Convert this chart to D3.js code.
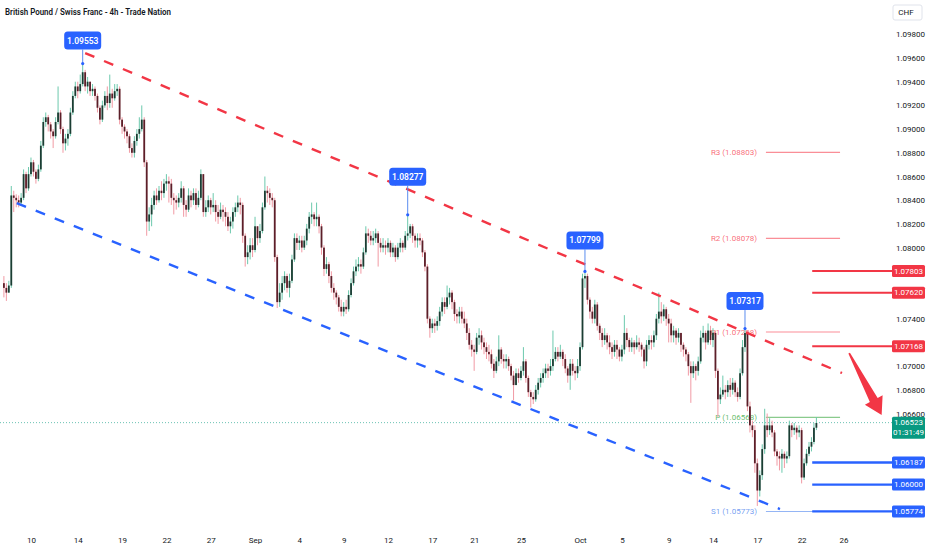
<!DOCTYPE html>
<html lang="en">
<head>
<meta charset="UTF-8">
<title>British Pound / Swiss Franc - 4h - Trade Nation</title>
<script src="https://d3js.org/d3.v7.min.js"></script>
<style>
  body { margin: 0; background: #fff; overflow: hidden; }
  text { font-family: Roboto, "Liberation Sans", sans-serif; }
</style>
</head>
<body>
<script>
// 4h candles, Thu 7 Aug -> Thu 23 Oct. Prices stored in pips above 1.0500 (price = 1.05 + v / 10000)
const firstOpen = 270;
const closes = [
  266, 262, 268, 344, 342, 340, 338, 342, 362, 350,
  362, 372, 364, 358, 366, 386, 406, 410, 404, 398,
  394, 406, 414, 400, 388, 392, 396, 414, 428, 436,
  432, 438, 448, 436, 440, 432, 434, 428, 418, 408,
  420, 428, 422, 430, 426, 432, 434, 408, 402, 398,
  394, 384, 380, 390, 396, 400, 408, 372, 322, 328,
  336, 344, 340, 348, 346, 354, 356, 354, 342, 340,
  338, 342, 350, 336, 332, 344, 340, 346, 336, 342,
  362, 330, 334, 340, 334, 336, 330, 326, 332, 330,
  326, 318, 322, 330, 334, 338, 336, 310, 292, 296,
  302, 298, 318, 308, 314, 334, 348, 346, 342, 340,
  292, 254, 262, 270, 276, 266, 272, 290, 308, 304,
  306, 300, 306, 316, 326, 328, 324, 326, 318, 300,
  282, 286, 276, 266, 262, 258, 250, 246, 250, 248,
  260, 270, 280, 284, 286, 284, 296, 312, 310, 306,
  308, 312, 304, 300, 302, 300, 304, 296, 300, 292,
  300, 304, 300, 310, 312, 318, 310, 306, 308, 306,
  296, 284, 240, 232, 236, 234, 238, 246, 254, 250,
  258, 262, 254, 244, 242, 246, 240, 236, 228, 218,
  214, 212, 224, 226, 220, 216, 212, 210, 202, 196,
  204, 214, 206, 204, 206, 200, 192, 184, 194, 190,
  196, 204, 190, 178, 174, 172, 180, 186, 190, 194,
  198, 196, 200, 206, 212, 208, 212, 206, 198, 192,
  202, 196, 194, 200, 216, 274, 276, 256, 246, 240,
  252, 234, 228, 222, 226, 220, 216, 212, 218, 214,
  208, 214, 228, 222, 216, 220, 216, 220, 218, 214,
  204, 218, 222, 220, 226, 240, 246, 242, 248, 240,
  236, 226, 230, 224, 228, 218, 214, 210, 200, 194,
  200, 196, 204, 224, 228, 220, 230, 222, 228, 196,
  172, 176, 180, 178, 184, 180, 186, 178, 174, 194,
  216, 228, 166, 150, 146, 118, 95, 108, 130, 150,
  146, 150, 144, 128, 124, 122, 126, 122, 124, 150,
  146, 148, 144, 146, 106, 118, 126, 132, 136, 148, 152
];
const highs = [
  276, 270, 272, 352, 348, 345, 344, 346, 366, 364,
  368, 376, 374, 366, 370, 390, 410, 414, 412, 406,
  400, 410, 436, 416, 402, 396, 400, 418, 432, 440,
  440, 446, 455, 450, 444, 440, 438, 436, 430, 420,
  424, 432, 436, 446, 434, 438, 438, 436, 410, 404,
  400, 396, 388, 394, 400, 410, 420, 410, 374, 334,
  342, 348, 350, 352, 356, 358, 362, 360, 358, 346,
  344, 346, 356, 352, 340, 350, 348, 350, 350, 348,
  366, 362, 340, 344, 342, 346, 340, 336, 338, 336,
  334, 330, 326, 334, 338, 344, 342, 338, 312, 302,
  308, 308, 326, 318, 320, 338, 360, 352, 350, 346,
  342, 294, 270, 276, 280, 278, 278, 294, 312, 312,
  310, 310, 310, 320, 330, 338, 330, 338, 328, 320,
  302, 292, 288, 280, 270, 264, 260, 256, 254, 256,
  264, 274, 284, 290, 292, 290, 300, 318, 316, 314,
  314, 316, 314, 308, 308, 306, 308, 306, 304, 302,
  304, 308, 306, 314, 328, 320, 320, 312, 312, 312,
  308, 298, 286, 242, 240, 240, 242, 250, 258, 258,
  268, 266, 264, 256, 248, 250, 250, 246, 240, 232,
  222, 218, 228, 232, 230, 224, 220, 218, 214, 206,
  208, 226, 216, 210, 210, 208, 202, 196, 198, 198,
  200, 216, 206, 192, 180, 178, 184, 190, 194, 198,
  202, 202, 206, 230, 216, 216, 218, 214, 210, 200,
  206, 206, 200, 206, 220, 278, 280, 278, 258, 250,
  256, 254, 236, 232, 232, 228, 226, 220, 222, 222,
  216, 218, 243, 232, 224, 224, 222, 226, 224, 220,
  216, 222, 226, 226, 230, 244, 262, 254, 252, 250,
  244, 240, 234, 232, 232, 228, 220, 216, 212, 204,
  204, 202, 208, 230, 234, 230, 236, 234, 232, 230,
  198, 182, 192, 184, 188, 190, 190, 188, 182, 198,
  222, 232, 230, 170, 154, 150, 122, 112, 134, 164,
  160, 156, 154, 146, 130, 128, 130, 128, 128, 154,
  152, 152, 150, 150, 148, 122, 130, 136, 140, 152, 157
];
const lows = [
  258, 255, 262, 266, 330, 334, 334, 336, 340, 346,
  348, 360, 360, 354, 356, 364, 384, 402, 398, 392,
  384, 392, 404, 396, 380, 382, 386, 394, 412, 426,
  426, 430, 436, 432, 430, 428, 428, 424, 414, 404,
  406, 418, 416, 418, 418, 424, 428, 404, 396, 392,
  388, 380, 376, 376, 386, 392, 398, 368, 310, 314,
  318, 332, 336, 338, 340, 342, 348, 338, 336, 328,
  332, 334, 338, 326, 326, 330, 334, 336, 332, 334,
  340, 326, 326, 330, 328, 330, 322, 320, 324, 322,
  318, 314, 312, 316, 326, 330, 328, 304, 284, 286,
  290, 292, 296, 302, 304, 312, 332, 338, 336, 334,
  288, 249, 250, 256, 264, 262, 258, 270, 288, 298,
  298, 296, 298, 302, 312, 320, 318, 318, 312, 294,
  276, 278, 270, 262, 256, 252, 246, 242, 242, 244,
  246, 258, 268, 276, 280, 278, 282, 294, 304, 302,
  302, 304, 284, 296, 296, 294, 296, 292, 292, 288,
  290, 296, 296, 298, 306, 308, 304, 300, 300, 302,
  292, 280, 236, 224, 228, 228, 230, 234, 242, 244,
  248, 252, 248, 238, 236, 236, 236, 232, 222, 214,
  208, 196, 210, 218, 214, 210, 206, 204, 198, 190,
  194, 200, 202, 198, 198, 196, 188, 171, 184, 186,
  188, 192, 186, 174, 165, 168, 170, 176, 182, 186,
  190, 190, 192, 196, 204, 204, 206, 200, 194, 186,
  180, 192, 188, 190, 196, 214, 266, 252, 240, 236,
  236, 230, 222, 216, 218, 214, 210, 206, 208, 206,
  204, 204, 210, 216, 212, 212, 210, 214, 212, 208,
  198, 200, 214, 214, 216, 222, 236, 236, 238, 234,
  220, 220, 220, 218, 220, 212, 208, 204, 192, 169,
  190, 188, 192, 202, 220, 214, 218, 218, 216, 190,
  157, 168, 174, 172, 174, 174, 176, 174, 170, 172,
  192, 212, 162, 144, 140, 110, 82, 90, 104, 126,
  140, 142, 140, 124, 116, 112, 110, 114, 118, 122,
  140, 142, 138, 140, 101, 104, 116, 124, 128, 134, 146
];

// day labels on the time axis and the candle they sit on
const dayLabels = ["10", "14", "19", "22", "27", "Sep", "4", "9", "12", "17", "21", "25", "Oct", "5", "9", "14", "17", "22", "26"];
const dayIndex = [11, 30, 48, 66, 84, 102, 120, 138, 156, 174, 191, 210, 234, 251, 270, 288, 306, 324, 341];

// price scale labels left visible next to the coloured tags
const priceTicks = [1.066, 1.068, 1.070, 1.074, 1.080, 1.082, 1.084, 1.086, 1.088,
                    1.090, 1.092, 1.094, 1.096, 1.098];

// swing highs with callouts
const swingPrice = [1.09553, 1.08277, 1.07799, 1.07317];
const swingIndex = [32, 164, 236, 301];

// pivot points
const pivotNames = ["R3", "R2", "R1", "P", "S1"];
const pivotValues = [1.08803, 1.08078, 1.07288, 1.06568, 1.05773];

const resistance = [1.07803, 1.07620, 1.07168];
const support = [1.06187, 1.06000, 1.05774];
const lastPrice = 1.06523;
const countdown = "01:31:49";

// drawn lines: [candle index, price]
const upperChannel = [[33, 1.09642], [340.4, 1.06942]];
const lowerChannel = [[5.2, 1.08376], [315.2, 1.05794]];
const arrowLine = [[343.3, 1.0711], [356.5, 1.06587]];

const W = 932, H = 550, axisX = 892;
const pv = v => 1.05 + v / 10000;

const x = d3.scaleLinear().domain([0, 330]).range([3.9, 816.4]);
const y = d3.scaleLinear().domain([1.05774, 1.098]).range([511.4, 34.3]);

const svg = d3.select("body").append("svg")
  .attr("width", W).attr("height", H)
  .style("display", "block");
svg.append("rect").attr("width", W).attr("height", H).attr("fill", "#fff");

const red = "#f23645", blue = "#2962ff", green = "#089981";

// title
svg.append("text")
  .attr("x", 5).attr("y", 15)
  .attr("font-size", 9.5).attr("font-weight", 600).attr("fill", "#131722")
  .attr("textLength", 166).attr("lengthAdjust", "spacingAndGlyphs")
  .text("British Pound / Swiss Franc - 4h - Trade Nation");

// pivot lines (behind price)
const pivotColors = ["#f7525f", "#f7525f", "#f7525f", "#4caf50", "#5b8def"];
const pivotStart = 309.5, pivotEnd = 339.6;
const pivots = svg.append("g");
pivotNames.forEach((n, k) => {
  const py = y(pivotValues[k]);
  pivots.append("line")
    .attr("x1", x(pivotStart)).attr("x2", x(pivotEnd))
    .attr("y1", py).attr("y2", py)
    .attr("stroke", pivotColors[k]).attr("stroke-opacity", 0.65).attr("stroke-width", 1.2);
  pivots.append("text")
    .attr("x", x(pivotStart) - 9).attr("y", py).attr("dy", "0.35em")
    .attr("text-anchor", "end").attr("font-size", 8)
    .attr("fill", pivotColors[k]).attr("fill-opacity", 0.85)
    .text(`${n} (${pivotValues[k].toFixed(5)})`);
});

// last price dotted line
svg.append("line")
  .attr("x1", 0).attr("x2", axisX)
  .attr("y1", y(lastPrice)).attr("y2", y(lastPrice))
  .attr("stroke", green).attr("stroke-opacity", 0.6)
  .attr("stroke-width", 1).attr("stroke-dasharray", "1 2");

// candles
const candles = closes.map((c, i) => {
  const o = i === 0 ? firstOpen : closes[i - 1];
  return { i, o, c, h: Math.max(highs[i], o, c), l: Math.min(lows[i], o, c) };
});
const cg = svg.append("g");
cg.selectAll("line").data(candles).join("line")
  .attr("x1", d => x(d.i)).attr("x2", d => x(d.i))
  .attr("y1", d => y(pv(d.h))).attr("y2", d => y(pv(d.l)))
  .attr("stroke", d => d.c >= d.o ? "#6cc9ad" : "#f19aa4")
  .attr("stroke-width", 1);
cg.selectAll("rect").data(candles).join("rect")
  .attr("x", d => x(d.i) - 0.9).attr("width", 1.8)
  .attr("y", d => y(pv(Math.max(d.o, d.c))))
  .attr("height", d => Math.max(0.8, Math.abs(y(pv(d.o)) - y(pv(d.c)))))
  .attr("fill", d => d.c >= d.o ? "#1b3d33" : "#5c1f29");

// channel lines
function seg(pts, color) {
  svg.append("line")
    .attr("x1", x(pts[0][0])).attr("y1", y(pts[0][1]))
    .attr("x2", x(pts[1][0])).attr("y2", y(pts[1][1]))
    .attr("stroke", color).attr("stroke-width", 2.4)
    .attr("stroke-dasharray", "10 10.5");
}
seg(upperChannel, red);
seg(lowerChannel, blue);

// horizontal levels
const levelStart = 328.3;
resistance.concat(support).forEach((p, k) => {
  svg.append("line")
    .attr("x1", x(levelStart)).attr("x2", axisX)
    .attr("y1", y(p)).attr("y2", y(p))
    .attr("stroke", k < 3 ? red : blue).attr("stroke-width", k < 3 ? 2 : 2.4);
});

// swing callouts
const swingLift = [23, 38, 31, 27.5];
swingPrice.forEach((p, k) => {
  const cx = x(swingIndex[k]), hy = y(p), cy = hy - swingLift[k];
  svg.append("line")
    .attr("x1", cx).attr("x2", cx).attr("y1", cy + 9).attr("y2", hy)
    .attr("stroke", "#5b8def").attr("stroke-width", 1);
  svg.append("circle").attr("cx", cx).attr("cy", hy).attr("r", 1.6).attr("fill", blue);
  svg.append("rect")
    .attr("x", cx - 18.5).attr("y", cy - 9).attr("width", 37).attr("height", 18)
    .attr("rx", 3.5).attr("fill", blue);
  svg.append("text")
    .attr("x", cx).attr("y", cy).attr("dy", "0.35em")
    .attr("text-anchor", "middle").attr("font-size", 8.5).attr("font-weight", 600)
    .attr("fill", "#fff").text(p.toFixed(5));
});

// arrow
(function () {
  const tx = x(arrowLine[0][0]), ty = y(arrowLine[0][1]);
  const hx = x(arrowLine[1][0]), hy = y(arrowLine[1][1]);
  const len = Math.hypot(hx - tx, hy - ty);
  const ux = (hx - tx) / len, uy = (hy - ty) / len;
  const nx = -uy, ny = ux;
  const bx = hx - 17 * ux, by = hy - 17 * uy;
  const pts = [
    [tx + 0.9 * nx, ty + 0.9 * ny],
    [bx + 4.4 * nx, by + 4.4 * ny],
    [bx + 10 * nx, by + 10 * ny],
    [hx, hy],
    [bx - 10 * nx, by - 10 * ny],
    [bx - 4.4 * nx, by - 4.4 * ny],
    [tx - 0.9 * nx, ty - 0.9 * ny]
  ];
  svg.append("polygon").attr("points", pts.map(q => q.join(",")).join(" ")).attr("fill", red);
})();

// right price axis
const yAxis = svg.append("g")
  .attr("transform", `translate(${axisX},0)`)
  .call(d3.axisRight(y).tickValues(priceTicks).tickSize(0).tickPadding(4).tickFormat(d3.format(".5f")));
yAxis.select(".domain").remove();
yAxis.selectAll("text").attr("font-size", 8).attr("fill", "#131722").attr("font-family", "Roboto, sans-serif");

svg.append("rect")
  .attr("x", 893).attr("y", 5).attr("width", 29).attr("height", 15).attr("rx", 2)
  .attr("fill", "#fff").attr("stroke", "#e0e3eb");
svg.append("text")
  .attr("x", 906).attr("y", 12.5).attr("dy", "0.35em").attr("text-anchor", "middle")
  .attr("font-size", 8).attr("fill", "#131722").text("CHF");

// price tags
function tag(p, color, extra) {
  const ty = y(p);
  svg.append("rect")
    .attr("x", axisX).attr("y", ty - 6).attr("width", 33).attr("height", extra ? 22 : 12)
    .attr("rx", 1.5).attr("fill", color);
  svg.append("text")
    .attr("x", axisX + 16.5).attr("y", ty).attr("dy", "0.35em").attr("text-anchor", "middle")
    .attr("font-size", 8).attr("fill", "#fff").text(p.toFixed(5));
  if (extra) {
    svg.append("text")
      .attr("x", axisX + 16.5).attr("y", ty + 10).attr("dy", "0.35em").attr("text-anchor", "middle")
      .attr("font-size", 8).attr("fill", "#fff").text(extra);
  }
}
resistance.forEach(p => tag(p, red));
support.forEach(p => tag(p, blue));
tag(lastPrice, green, countdown);

// time axis
const xAxis = svg.append("g")
  .attr("transform", "translate(0,533)")
  .call(d3.axisBottom(x).tickValues(dayIndex).tickSize(0).tickPadding(4)
    .tickFormat((d, k) => dayLabels[k]));
xAxis.select(".domain").remove();
xAxis.selectAll("text").attr("font-size", 8).attr("fill", "#131722").attr("font-family", "Roboto, sans-serif");
</script>
</body>
</html>
